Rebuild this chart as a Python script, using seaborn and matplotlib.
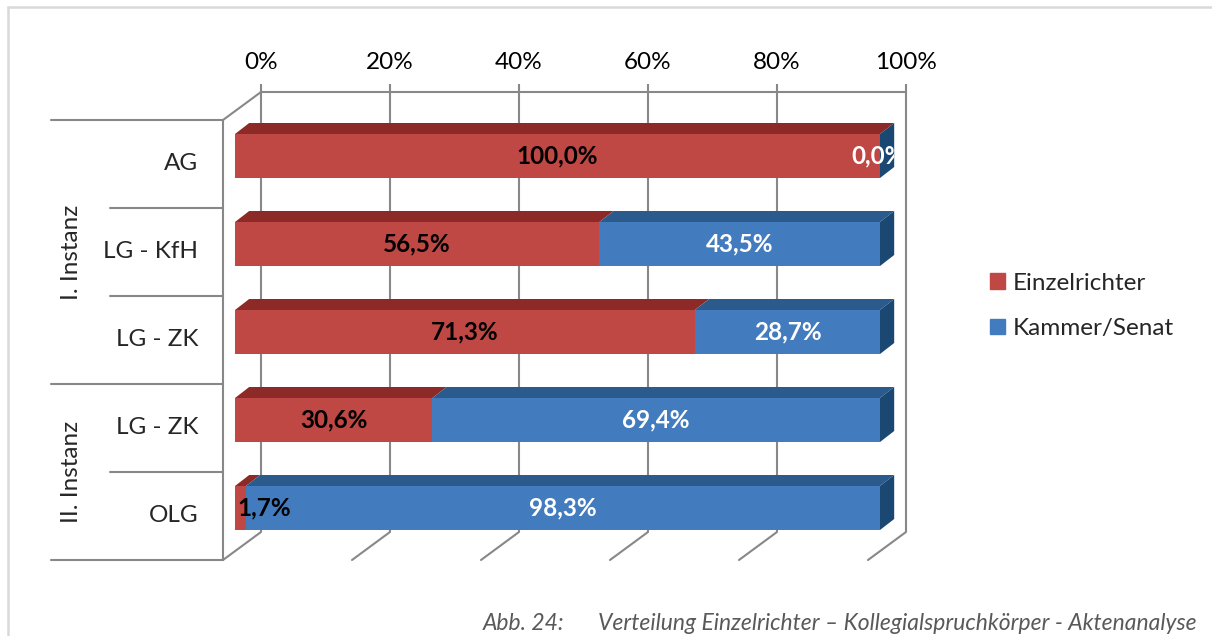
import numpy as np
import pandas as pd
import matplotlib
matplotlib.use("Agg")
import matplotlib.pyplot as plt
import matplotlib.transforms as mtrans
from matplotlib.patches import Polygon, Patch
import seaborn as sns

# data
categories = ["AG", "LG - KfH", "LG - ZK", "LG - ZK", "OLG"]
groups = ["I. Instanz", "II. Instanz"]
group_sizes = [3, 2]
einzelrichter = [100.0, 56.5, 71.3, 30.6, 1.7]
kammer_senat = [0.0, 43.5, 28.7, 69.4, 98.3]
series_names = ["Einzelrichter", "Kammer/Senat"]
x_ticks = [0, 20, 40, 60, 80, 100]
x_ticklabels = ["0%", "20%", "40%", "60%", "80%", "100%"]
caption_no = "Abb. 24:"
caption = "Verteilung Einzelrichter \u2013 Kollegialspruchk\u00f6rper - Aktenanalyse"

RED, RED_TOP = "#BF4744", "#8D2A27"
BLUE, BLUE_TOP, BLUE_SIDE = "#437CBE", "#2B5B8C", "#1A4873"
GRID = "#888888"
FRAME = "#D9D9D9"

sns.set_theme(style="white")
plt.rcParams["font.family"] = ["Lato", "DejaVu Sans"]
FS = 17.5

W, H = 1212, 636
fig = plt.figure(figsize=(W / 100, H / 100), dpi=100)


def rect(x0, y0, x1, y1):
    return [x0 / W, 1 - y1 / H, (x1 - x0) / W, (y1 - y0) / H]


# overlay for frame/wall decoration, in pixel coords (y down)
deco = fig.add_axes([0, 0, 1, 1], zorder=0)
deco.set_xlim(0, W)
deco.set_ylim(H, 0)
deco.axis("off")

back = fig.add_axes(rect(261, 92, 906, 532), zorder=1)
front = fig.add_axes(rect(235, 112, 880, 552), zorder=2)

# back wall with gridlines and percent labels
back.set_facecolor("none")
back.set_xlim(0, 100)
back.set_ylim(0, 1)
for s in ["left", "right", "bottom"]:
    back.spines[s].set_visible(False)
back.spines["top"].set_color(GRID)
back.spines["top"].set_linewidth(1.5)
back.xaxis.tick_top()
back.set_xticks(x_ticks, x_ticklabels)
back.set_yticks([])
back.tick_params(axis="x", direction="out", length=6, width=1.5, color=GRID,
                 pad=8, labelsize=FS, labelcolor="black")
back.vlines(x_ticks, 0, 1, color=GRID, lw=1.5, clip_on=False)

# wall depth lines (front plane sits 38px left, 28px lower than back)
DX, DY = -38, 28
to_px = lambda x, y: (back.transData.transform((x, y))[0], H - back.transData.transform((x, y))[1])
x0, ytop = to_px(0, 1)
_, ybot = to_px(0, 0)
deco.plot([x0, x0 + DX], [ytop, ytop + DY], color=GRID, lw=1.5)
deco.plot([x0 + DX, x0 + DX], [ytop + DY, ybot + DY], color=GRID, lw=1.5)
for v in x_ticks:
    xv, _ = to_px(v, 0)
    deco.plot([xv, xv + DX], [ybot, ybot + DY], color=GRID, lw=1.5)

# category axis lines on the left
row_top, row_bot = ytop + DY, ybot + DY
row_h = (row_bot - row_top) / len(categories)
wall_x = x0 + DX
edges = np.cumsum([0] + group_sizes)
for k in range(len(categories) + 1):
    yk = row_top + k * row_h
    xs = 51 if k in edges else 110
    deco.plot([xs, wall_x], [yk, yk], color=GRID, lw=1.5)
for k in range(len(categories)):
    deco.text(198, row_top + (k + 0.5) * row_h, categories[k], ha="right",
              va="center", fontsize=FS)
for g, name in enumerate(groups):
    yc = row_top + (edges[g] + edges[g + 1]) / 2 * row_h
    deco.text(71, yc, name, rotation=90, ha="center", va="center", fontsize=FS)

# outer frame
deco.plot([8, 8], [7, H], color=FRAME, lw=1.8)
deco.plot([8, W], [7, 7], color=FRAME, lw=1.8)

# bars
rows = [str(i) for i in range(len(categories))]
total = [a + b for a, b in zip(einzelrichter, kammer_senat)]
sns.barplot(x=total, y=rows, orient="h", color=BLUE, saturation=1, width=0.5,
            errorbar=None, linewidth=0, ax=front)
sns.barplot(x=einzelrichter, y=rows, orient="h", color=RED, saturation=1, width=0.5,
            errorbar=None, linewidth=0, ax=front)
front.set_xlim(0, 100)
front.set_ylim(4.5, -0.5)
front.set_facecolor("none")
front.axis("off")

# 3d faces of the bars
ddx, ddy = 2.2, 0.125
for i, (e, t) in enumerate(zip(einzelrichter, total)):
    yt, yb = i - 0.25, i + 0.25
    front.add_patch(Polygon([(0, yt), (e, yt), (e + ddx, yt - ddy), (ddx, yt - ddy)],
                            closed=True, fc=RED_TOP, ec="none", clip_on=False))
    front.add_patch(Polygon([(e, yt), (t, yt), (t + ddx, yt - ddy), (e + ddx, yt - ddy)],
                            closed=True, fc=BLUE_TOP, ec="none", clip_on=False))
    front.add_patch(Polygon([(t, yt), (t + ddx, yt - ddy), (t + ddx, yb - ddy), (t, yb)],
                            closed=True, fc=BLUE_SIDE, ec="none", clip_on=False))

# value labels
clip = mtrans.TransformedBbox(mtrans.Bbox([[-5, -1], [100 + ddx, 5]]), front.transData)
for i, (e, k) in enumerate(zip(einzelrichter, kammer_senat)):
    lab_e = f"{e:.1f}%".replace(".", ",")
    lab_k = f"{k:.1f}%".replace(".", ",")
    if e < 5:
        front.text(0.4, i, lab_e, ha="left", va="center", fontsize=FS,
                   fontweight="bold", color="black", zorder=5)
    else:
        front.text(e / 2, i, lab_e, ha="center", va="center", fontsize=FS,
                   fontweight="bold", color="black", zorder=5)
    xk = e + k / 2 if k >= 5 else 99.7
    tk = front.text(xk, i, lab_k, ha="center", va="center", fontsize=FS,
                    fontweight="bold", color="white", zorder=5)
    tk.set_clip_box(clip)
    tk.set_clip_on(True)

# legend
handles = [Patch(color=RED), Patch(color=BLUE)]
fig.legend(handles, series_names, loc="center left",
           bbox_to_anchor=(990 / W, 1 - 306 / H), frameon=False, fontsize=FS,
           handlelength=0.62, handleheight=0.62, handletextpad=0.3,
           labelspacing=1.0, borderpad=0, borderaxespad=0)

# caption
deco.text(483, 623, caption_no, ha="left", va="center", fontsize=16.5,
          style="italic", color="#595959")
deco.text(1197, 623, caption, ha="right", va="center", fontsize=16.5,
          style="italic", color="#595959")

fig.savefig("out.png", dpi=100)
